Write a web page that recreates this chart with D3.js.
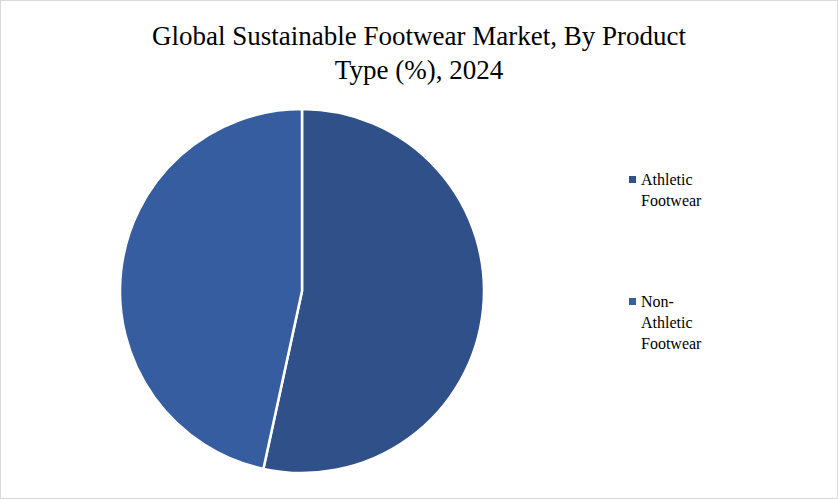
<!DOCTYPE html><html><head><script src="https://cdn.jsdelivr.net/npm/d3@7"></script>
<style>body{margin:0;background:#fff}</style></head><body><svg id="c" width="838" height="499"></svg>
<script>
const categories=["Athletic Footwear","Non-Athletic Footwear"];
const values=[53.4,46.6];
const colors=["#2f5089","#365d9f"];
const legendLines=[["Athletic","Footwear"],["Non-","Athletic","Footwear"]];
const svg=d3.select("#c");
svg.append("rect").attr("x",0.5).attr("y",0.5).attr("width",837).attr("height",498).attr("fill","#fff").attr("stroke","#d9d9d9");
const t=svg.append("text").attr("text-anchor","middle").attr("font-family","Liberation Serif, DejaVu Serif, serif").attr("font-size",27).attr("fill","#000");
t.append("tspan").attr("x",419).attr("y",45).text("Global Sustainable Footwear Market, By Product");
t.append("tspan").attr("x",419).attr("y",79).text("Type (%), 2024");
const pie=d3.pie().sort(null).value(d=>d)(values);
const arc=d3.arc().innerRadius(0).outerRadius(182);
const g=svg.append("g").attr("transform","translate(302,291)");
g.selectAll("path").data(pie).join("path").attr("d",arc).attr("fill",(d,i)=>colors[i]).attr("stroke","#fff").attr("stroke-width",2.5);
const ly=[180,302];
categories.forEach((c,i)=>{
 svg.append("rect").attr("x",629).attr("y",ly[i]-4).attr("width",7).attr("height",7).attr("fill",colors[i]);
 const tx=svg.append("text").attr("font-family","Liberation Serif, DejaVu Serif, serif").attr("font-size",16).attr("fill","#000");
 legendLines[i].forEach((l,j)=>tx.append("tspan").attr("x",641).attr("y",ly[i]+5+j*21).text(l));
});
</script></body></html>
